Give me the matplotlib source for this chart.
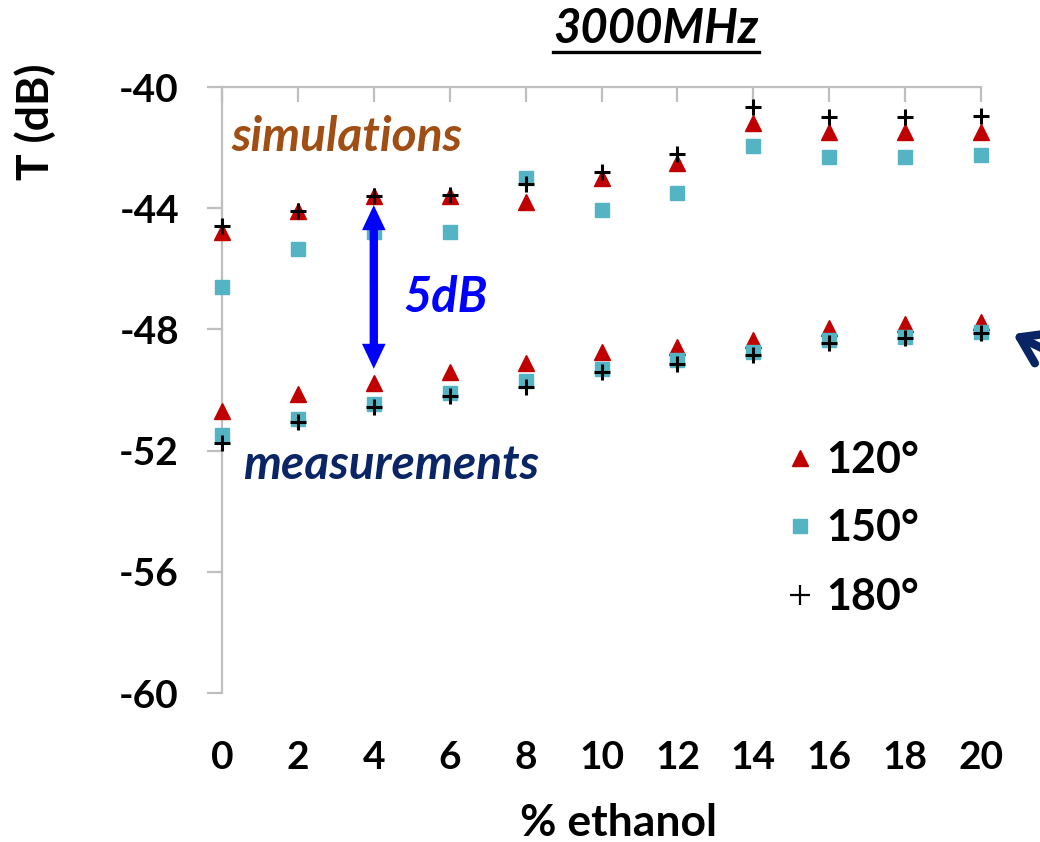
import matplotlib
matplotlib.use("Agg")
import matplotlib.pyplot as plt
from matplotlib.lines import Line2D
from matplotlib.patches import FancyArrowPatch

# % ethanol in the water/ethanol mixture
ethanol = [0, 2, 4, 6, 8, 10, 12, 14, 16, 18, 20]

# Simulated transmission (dB) at 3000 MHz for each antenna angle
sim_120 = [-44.8, -44.1, -43.6, -43.6, -43.8, -43.0, -42.5, -41.2, -41.5, -41.5, -41.5]
sim_150 = [-46.6, -45.35, -44.8, -44.8, -43.0, -44.05, -43.5, -41.95, -42.3, -42.3, -42.25]
sim_180 = [-44.6, -44.1, -43.6, -43.55, -43.2, -42.8, -42.2, -40.65, -41.0, -41.0, -40.95]

# Measured transmission (dB)
meas_120 = [-50.7, -50.13, -49.77, -49.41, -49.1, -48.75, -48.58, -48.35, -47.95, -47.82, -47.76]
meas_150 = [-51.48, -50.96, -50.46, -50.1, -49.7, -49.3, -49.0, -48.75, -48.35, -48.25, -48.1]
meas_180 = [-51.75, -51.05, -50.56, -50.2, -49.9, -49.4, -49.14, -48.85, -48.45, -48.3, -48.12]

x_ticks = [0, 2, 4, 6, 8, 10, 12, 14, 16, 18, 20]
y_ticks = [-60, -56, -52, -48, -44, -40]
y_tick_labels = ["-60", "-56", "-52", "-48", "-44", "-40"]
series_labels = ["120°", "150°", "180°"]

# 5 dB gap marker between simulations and measurements at 4 % ethanol
gap_x = 4
gap_top = -43.9
gap_bottom = -49.3

RED = "#C00000"
TEAL = "#55B4C3"
BLACK = "#000000"
GRAY = "#BFBFBF"
BROWN = "#A04E14"
NAVY = "#0A2565"
BLUE = "#0000FF"

plt.rcParams["font.family"] = ["Lato", "DejaVu Sans"]
plt.rcParams["axes.unicode_minus"] = False

W, H = 1040, 842
fig = plt.figure(figsize=(W / 100, H / 100), dpi=100)
ax = fig.add_axes([222 / W, 1 - 693 / H, (981 - 222) / W, (693 - 87) / H])

ax.set_xlim(0, 20)
ax.set_ylim(-60, -40)

marker_kw = dict(linestyle="none", clip_on=False)
for ys in (sim_120, meas_120):
    ax.plot(ethanol, ys, marker="^", ms=11.5, color=RED, mec=RED, zorder=3, **marker_kw)
for ys in (sim_150, meas_150):
    ax.plot(ethanol, ys, marker="s", ms=9.5, color=TEAL, mec=TEAL, zorder=4, **marker_kw)
for ys in (sim_180, meas_180):
    ax.plot(ethanol, ys, marker="+", ms=12, mew=2.2, color=BLACK, zorder=5, **marker_kw)

# Axes styling: grey left and top lines only
for side in ("bottom", "right"):
    ax.spines[side].set_visible(False)
for side in ("left", "top"):
    ax.spines[side].set_color(GRAY)
    ax.spines[side].set_linewidth(1.6)

ax.set_xticks(x_ticks)
ax.set_xticklabels([str(v) for v in x_ticks])
ax.set_yticks(y_ticks)
ax.set_yticklabels(y_tick_labels)
ax.tick_params(axis="x", top=True, bottom=False, labeltop=False, labelbottom=True,
               direction="in", length=11, width=1.6, color=GRAY, pad=34,
               labelsize=28)
ax.tick_params(axis="y", left=True, direction="out", length=11, width=1.6,
               color=GRAY, pad=20, labelsize=28)
for lab in ax.get_xticklabels() + ax.get_yticklabels():
    lab.set_fontweight("bold")

# Double-headed 5 dB arrow
mid = (gap_top + gap_bottom) / 2
for end in (gap_top, gap_bottom):
    ax.add_patch(FancyArrowPatch((gap_x, mid), (gap_x, end),
                                 arrowstyle="simple,head_length=1.8,head_width=1.7,tail_width=0.6",
                                 mutation_scale=10, color=BLUE, lw=0, zorder=6,
                                 shrinkA=0, shrinkB=0, clip_on=False))

ax.text(4.77, -46.96, "5dB", color=BLUE, fontsize=35, fontweight="bold",
        fontstyle="italic", ha="left", va="center")
ax.text(0.26, -41.65, "simulations", color=BROWN, fontsize=34.5, fontweight="bold",
        fontstyle="italic", ha="left", va="center")
ax.text(0.55, -52.47, "measurements", color=NAVY, fontsize=34.5, fontweight="bold",
        fontstyle="italic", ha="left", va="center")

# Pointer at the measured 180° curve, entering from the right edge
fig.add_artist(FancyArrowPatch((1062 / W, 1 - 358 / H), (1013 / W, 1 - 334 / H),
                               transform=fig.transFigure,
                               arrowstyle="->,head_length=0.9,head_width=0.6",
                               mutation_scale=20, color=NAVY, lw=6,
                               shrinkA=0, shrinkB=0, capstyle="round",
                               joinstyle="round"))

# Legend
handles = [
    Line2D([], [], linestyle="none", marker="^", ms=11.5, color=RED),
    Line2D([], [], linestyle="none", marker="s", ms=9.5, color=TEAL),
    Line2D([], [], linestyle="none", marker="+", ms=14, mew=1.6, color=BLACK),
]
leg = ax.legend(handles, series_labels, loc="upper left",
                bbox_to_anchor=(787 / W, 1 - 440 / H), bbox_transform=fig.transFigure,
                frameon=False, prop=dict(size=31, weight="bold"),
                handlelength=0.6, handletextpad=0.3, labelspacing=0.66,
                borderpad=0, borderaxespad=0)

# Axis titles
fig.text(35 / W, 1 - 122 / H, "T (dB)", rotation=90, fontsize=32, fontweight="bold",
         ha="center", va="center")
fig.text(619 / W, 1 - 836 / H, "% ethanol", fontsize=32, fontweight="bold",
         ha="center", va="baseline")

# Underlined title
title = fig.text(656 / W, 1 - 29 / H, "3000MHz", fontsize=34, fontweight="bold",
                 fontstyle="italic", ha="center", va="center")
fig.canvas.draw()
bb = title.get_window_extent(fig.canvas.get_renderer())
uy = (bb.y0 - 1) / H
fig.add_artist(Line2D([bb.x0 / W, bb.x1 / W], [uy, uy], transform=fig.transFigure,
                      color=BLACK, lw=2.4))

fig.savefig("out.png", dpi=100)
